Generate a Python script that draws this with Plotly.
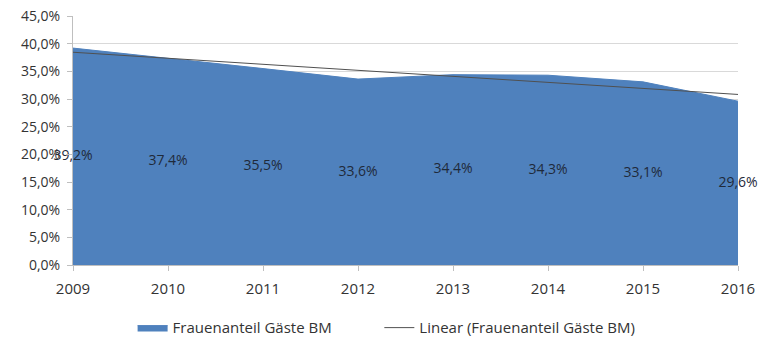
import numpy as np
import plotly.graph_objects as go

years = [2009, 2010, 2011, 2012, 2013, 2014, 2015, 2016]
share = [39.2, 37.4, 35.5, 33.6, 34.4, 34.3, 33.1, 29.6]
y_ticks = [0, 5, 10, 15, 20, 25, 30, 35, 40, 45]

series_name = "Frauenanteil Gäste BM"
trend_name = "Linear (Frauenanteil Gäste BM)"


def de_pct(v):
    return f"{v:.1f}%".replace(".", ",")


# Linear trend (least squares), as Excel's trendline
coef = np.polyfit(years, share, 1)
trend = [coef[0] * x + coef[1] for x in years]

FONT = "Open Sans, Lato, sans-serif"
TXT = "#333333"

fig = go.Figure()
fig.add_trace(go.Scatter(
    x=years, y=share, name=series_name, mode="lines",
    fill="tozeroy", fillcolor="#4F81BD",
    line=dict(color="#4F81BD", width=1), legend="legend",
))
fig.add_trace(go.Scatter(
    x=years, y=trend, name=trend_name, mode="lines",
    line=dict(color="#505050", width=1), legend="legend2",
))
fig.add_trace(go.Scatter(
    x=years, y=[v / 2 for v in share], mode="text",
    text=[de_pct(v) for v in share],
    textfont=dict(family=FONT, size=14, color="#1f2a3a"),
    showlegend=False, hoverinfo="skip", cliponaxis=False,
))

legend_common = dict(orientation="h", xref="container", yref="container",
                     xanchor="left", y=0.03, yanchor="middle",
                     font=dict(size=15, color=TXT), itemwidth=30,
                     bgcolor="rgba(0,0,0,0)")

fig.update_layout(
    width=771, height=338,
    margin=dict(l=73, r=33, t=16, b=73, autoexpand=False),
    paper_bgcolor="white", plot_bgcolor="white",
    font=dict(family=FONT, size=13, color=TXT),
    showlegend=True,
    legend=dict(x=0.172, **legend_common),
    legend2=dict(x=0.492, **legend_common),
)
fig.update_xaxes(
    range=[2009, 2016], tickmode="array", tickvals=years,
    ticktext=[str(y) for y in years],
    showgrid=False, showline=True, linecolor="#bfbfbf", linewidth=1,
    ticks="outside", ticklen=5, tickcolor="#bfbfbf", ticklabelstandoff=5,
    tickfont=dict(size=15, color=TXT), zeroline=False,
)
fig.update_yaxes(
    range=[0, 45], tickmode="array", tickvals=y_ticks,
    ticktext=[de_pct(v) for v in y_ticks],
    showgrid=True, gridcolor="#d9d9d9", gridwidth=1,
    showline=True, linecolor="#bfbfbf", linewidth=1,
    ticks="outside", ticklen=5, tickcolor="#bfbfbf", ticklabelstandoff=4,
    tickfont=dict(size=14, color=TXT), zeroline=False,
)

fig.write_html("out.html")
